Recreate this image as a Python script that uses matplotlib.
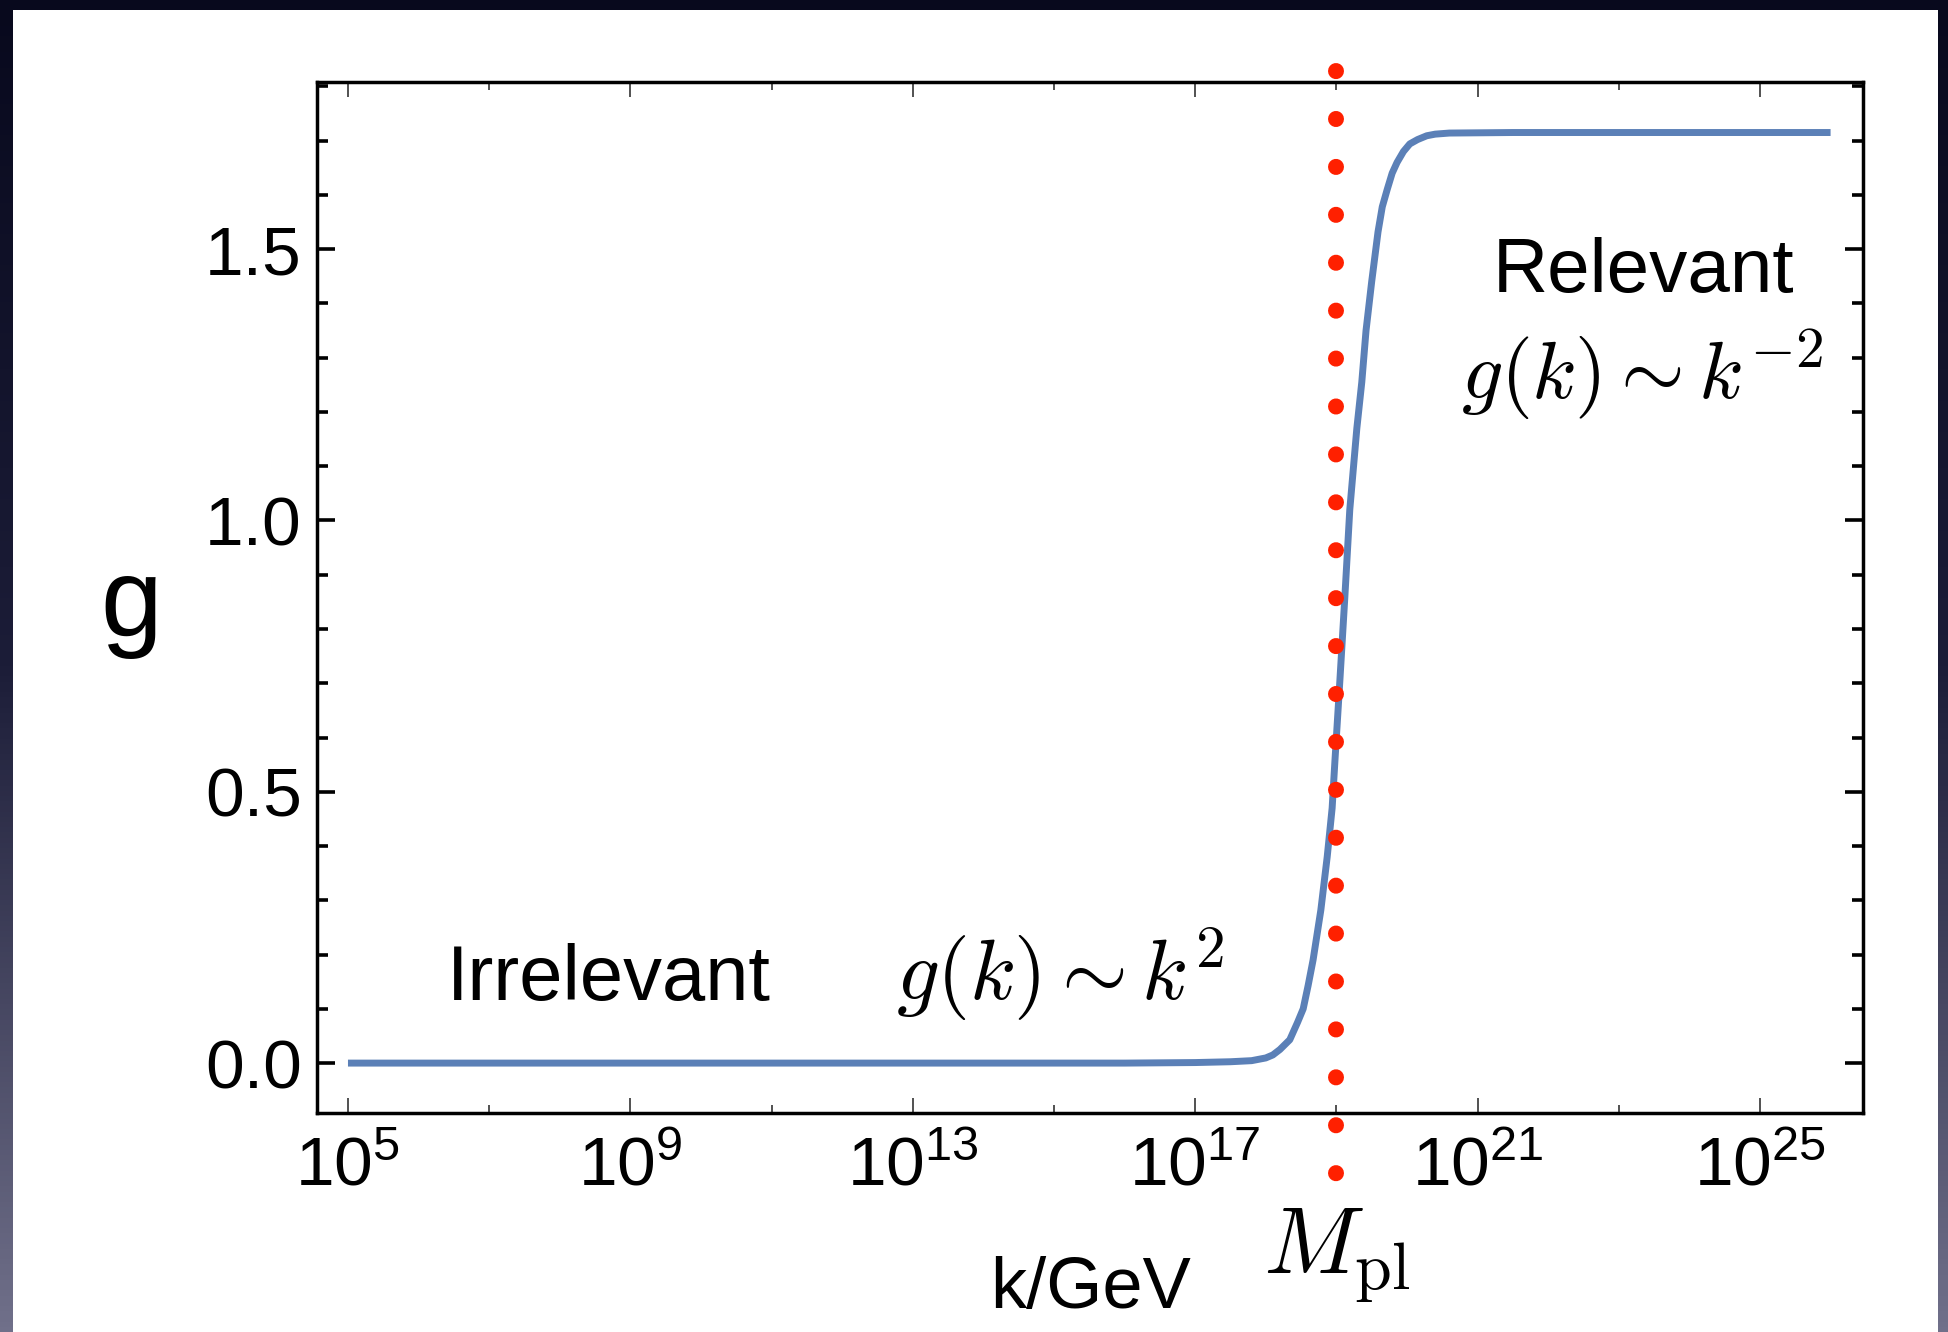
import numpy as np
import matplotlib
matplotlib.use('Agg')
import matplotlib.pyplot as plt
import matplotlib.transforms as mtransforms
from matplotlib.colors import LinearSegmentedColormap

plt.rcParams['font.family'] = ['Liberation Sans', 'DejaVu Sans']
plt.rcParams['mathtext.fontset'] = 'cm'

# g(k), x given as log10(k/GeV)
log_k = [5, 9, 13, 16, 17, 17.5, 17.8, 18.0, 18.1, 18.2, 18.34, 18.45, 18.53, 18.6,
         18.67, 18.78, 18.87, 18.94, 18.98, 19.05, 19.12, 19.19, 19.29, 19.36, 19.42,
         19.5, 19.59, 19.65, 19.72, 19.79, 19.86, 19.95, 20.04, 20.15, 20.28, 20.4,
         20.6, 21.5, 26]
g_vals = [0, 0, 0, 0, 0.001, 0.0025, 0.0045, 0.0095, 0.015, 0.025, 0.043, 0.075,
          0.1, 0.143, 0.19, 0.282, 0.38, 0.47, 0.558, 0.706, 0.859, 1.02, 1.17,
          1.255, 1.35, 1.44, 1.532, 1.578, 1.61, 1.64, 1.66, 1.68, 1.694, 1.702,
          1.709, 1.712, 1.714, 1.715, 1.715]

m_planck = 1e19
planck_line_y = [1.828, -0.21]

xticks_major = [1e5, 1e9, 1e13, 1e17, 1e21, 1e25]
xtick_labels = [r'$\mathdefault{10^{5}}$', r'$\mathdefault{10^{9}}$', r'$\mathdefault{10^{13}}$',
                r'$\mathdefault{10^{17}}$', r'$\mathdefault{10^{21}}$', r'$\mathdefault{10^{25}}$']
xticks_minor = [1e7, 1e11, 1e15, 1e19, 1e23]
yticks_major = [0.0, 0.5, 1.0, 1.5]
ytick_labels = ['0.0', '0.5', '1.0', '1.5']
yticks_minor = [0.1, 0.2, 0.3, 0.4, 0.6, 0.7, 0.8, 0.9, 1.1, 1.2, 1.3, 1.4, 1.6, 1.7, 1.8]

fig = plt.figure(figsize=(19.49, 13.32), dpi=100)

# slide background: dark gradient frame with a white panel
bg = fig.add_axes([0, 0, 1, 1])
bg.set_axis_off()
cmap = LinearSegmentedColormap.from_list('slide', ['#08091d', '#1c1d38', '#70708a'])
bg.imshow(np.linspace(0, 1, 256).reshape(-1, 1), aspect='auto', cmap=cmap,
          extent=[0, 1, 0, 1], origin='upper')
bg.add_patch(plt.Rectangle((13 / 1949, 0), (1938 - 13) / 1949, 1 - 10 / 1332,
                           facecolor='white', edgecolor='none', transform=bg.transAxes))
bg.set_xlim(0, 1)
bg.set_ylim(0, 1)

ax = fig.add_axes([0.1626, 0.1644, 0.9559 - 0.1626, 0.9384 - 0.1644])
ax.set_facecolor('none')
k = 10 ** np.array(log_k)
ax.plot(k, g_vals, color='#5b80b7', lw=5, solid_capstyle='butt',
        solid_joinstyle='round', zorder=3)
ax.plot([m_planck, m_planck], planck_line_y, color='#ff2000', lw=11.5,
        linestyle=(0, (0.01, 2.99)), dash_capstyle='round', clip_on=False, zorder=5)

ax.set_xscale('log')
ax.set_xlim(10 ** 4.56, 10 ** 26.46)
ax.set_ylim(-0.092, 1.808)

ax.set_xticks(xticks_major)
ax.set_xticklabels(xtick_labels)
ax.set_xticks(xticks_minor, minor=True)
ax.set_xticklabels([], minor=True)
ax.set_yticks(yticks_major)
ax.set_yticklabels(ytick_labels)
ax.set_yticks(yticks_minor, minor=True)

for s in ax.spines.values():
    s.set_linewidth(2.5)
ax.tick_params(axis='both', which='both', direction='in', top=True, right=True,
               labelsize=50)
ax.tick_params(axis='x', which='major', length=11, width=1.2, pad=16, color='#333333')
ax.tick_params(axis='x', which='minor', length=6, width=1.2, color='#333333')
ax.tick_params(axis='y', which='major', length=13, width=2.6, pad=11)
ax.tick_params(axis='y', which='minor', length=8, width=2.6)

# labels and annotations
fig.text(131 / 1949, 0.5225, 'g', fontsize=80, ha='center', va='baseline')
fig.text(0.5593, 0.018, 'k/GeV', fontsize=52, ha='center', va='baseline')
trans = mtransforms.blended_transform_factory(ax.transData, fig.transFigure)
ax.text(m_planck, 0.0435, r'$M_{\rm pl}$', fontsize=68, ha='center', va='baseline',
        transform=trans)

ax.text(0.0841, 0.1096, 'Irrelevant', fontsize=56, ha='left', va='baseline',
        transform=ax.transAxes)
ax.text(0.4806, 0.1096, r'$g(k)\sim k^2$', fontsize=61, ha='center', va='baseline',
        transform=ax.transAxes)
ax.text(0.8583, 0.7963, 'Relevant', fontsize=55, ha='center', va='baseline',
        transform=ax.transAxes)
ax.text(0.857, 0.6916, r'$g(k)\sim k^{-2}$', fontsize=59, ha='center', va='baseline',
        transform=ax.transAxes)

fig.savefig('out.png', dpi=100)
